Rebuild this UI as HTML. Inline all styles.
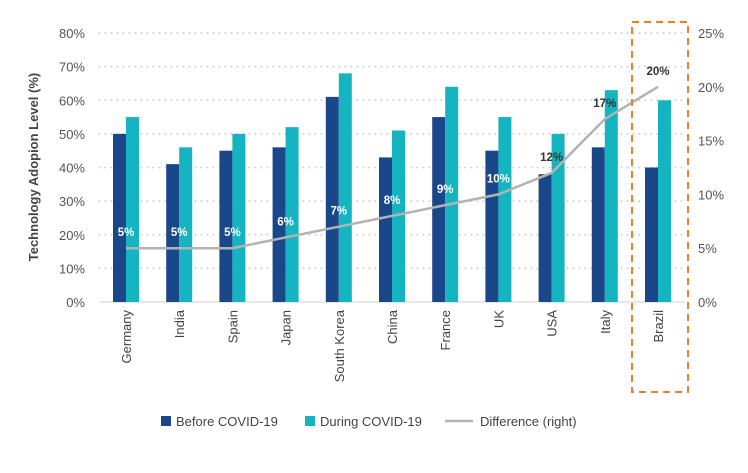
<!DOCTYPE html>
<html><head><meta charset="utf-8"><style>
body{margin:0;background:#fff;font-family:"Liberation Sans",sans-serif;}
svg text{font-family:"Liberation Sans",sans-serif;}
</style></head><body>
<svg id="c" width="748" height="468" xmlns="http://www.w3.org/2000/svg"></svg>
<script>
const categories=["Germany","India","Spain","Japan","South Korea","China","France","UK","USA","Italy","Brazil"];
const before=[50,41,45,46,61,43,55,45,38,46,40];
const during=[55,46,50,52,68,51,64,55,50,63,60];
const diff=[5,5,5,6,7,8,9,10,12,17,20];
const leftTicks=[0,10,20,30,40,50,60,70,80];
const rightTicks=[0,5,10,15,20,25];
const NS="http://www.w3.org/2000/svg";
const svg=document.getElementById('c');
const L=99.4,R=684.6,B=302,T=33;
const step=(R-L)/categories.length;
const yL=v=>B-(v/80)*(B-T);
const yR=v=>B-(v/25)*(B-T);
const xc=i=>L+step*(i+0.5);
function mk(t,a,txt){const e=document.createElementNS(NS,t);for(const k in a)e.setAttribute(k,a[k]);if(txt!==undefined)e.textContent=txt;svg.appendChild(e);return e;}
leftTicks.forEach(v=>{
 if(v>0){const g=mk('line',{x1:L,x2:R,y1:yL(v),y2:yL(v),stroke:'#cfcfcf','stroke-dasharray':'0,6','stroke-linecap':'round','stroke-width':2});
 
 }
 const t=mk('text',{x:85,y:yL(v)+5,'text-anchor':'end','font-size':13,fill:'#555'},v+'%');
 
 
});
rightTicks.forEach(v=>{
 const t=mk('text',{x:698,y:yR(v)+5,'font-size':13,fill:'#555'},v+'%');
 
 
});
const ax=mk('line',{x1:L,x2:R,y1:B,y2:B,stroke:'#d0d0d0'});


categories.forEach((c,i)=>{
 const x=xc(i);
 const b1=mk('rect',{x:x-13,y:yL(before[i]),width:13,height:B-yL(before[i]),fill:'#1a478a'});
 
 
 const b2=mk('rect',{x:x,y:yL(during[i]),width:13,height:B-yL(during[i]),fill:'#14b4c0'});
 
 
 const t=mk('text',{transform:`translate(${x+5},310) rotate(-90)`,'text-anchor':'end','font-size':13,fill:'#444'},c);
 
 
});
const pts=diff.map((v,i)=>xc(i)+','+yR(v)).join(' ');
const pl=mk('polyline',{points:pts,fill:'none',stroke:'#b3b3b3','stroke-width':2.5});


diff.forEach((v,i)=>{
 const t=mk('text',{x:xc(i),y:yR(v)-12,'text-anchor':'middle','font-size':11.5,'font-weight':'bold',fill:v>=12?'#333':'#fff'},v+'%');
 
 
});
const hb=mk('rect',{x:632,y:22,width:56,height:370,fill:'none',stroke:'#f07f2a','stroke-width':2,'stroke-dasharray':'7,5'});


const yt=mk('text',{transform:'translate(38,167) rotate(-90)','text-anchor':'middle','font-size':13,'font-weight':'bold',fill:'#444'},'Technology Adopion Level (%)');


const lg=[[161,'#1a478a','Before COVID-19','rect'],[305,'#14b4c0','During COVID-19','rect'],[455,'#b3b3b3','Difference (right)','line']];
lg.forEach(([x,col,lab,kind])=>{
 const s=kind==='rect'?mk('rect',{x:x,y:416,width:10,height:10,fill:col}):mk('line',{x1:x-10,x2:x+18,y1:421,y2:421,stroke:col,'stroke-width':2.5});
 
 
 const t=mk('text',{x:kind==='rect'?x+15:x+25,y:426,'font-size':13,fill:'#444'},lab);
 
 
});
</script>
</body></html>
